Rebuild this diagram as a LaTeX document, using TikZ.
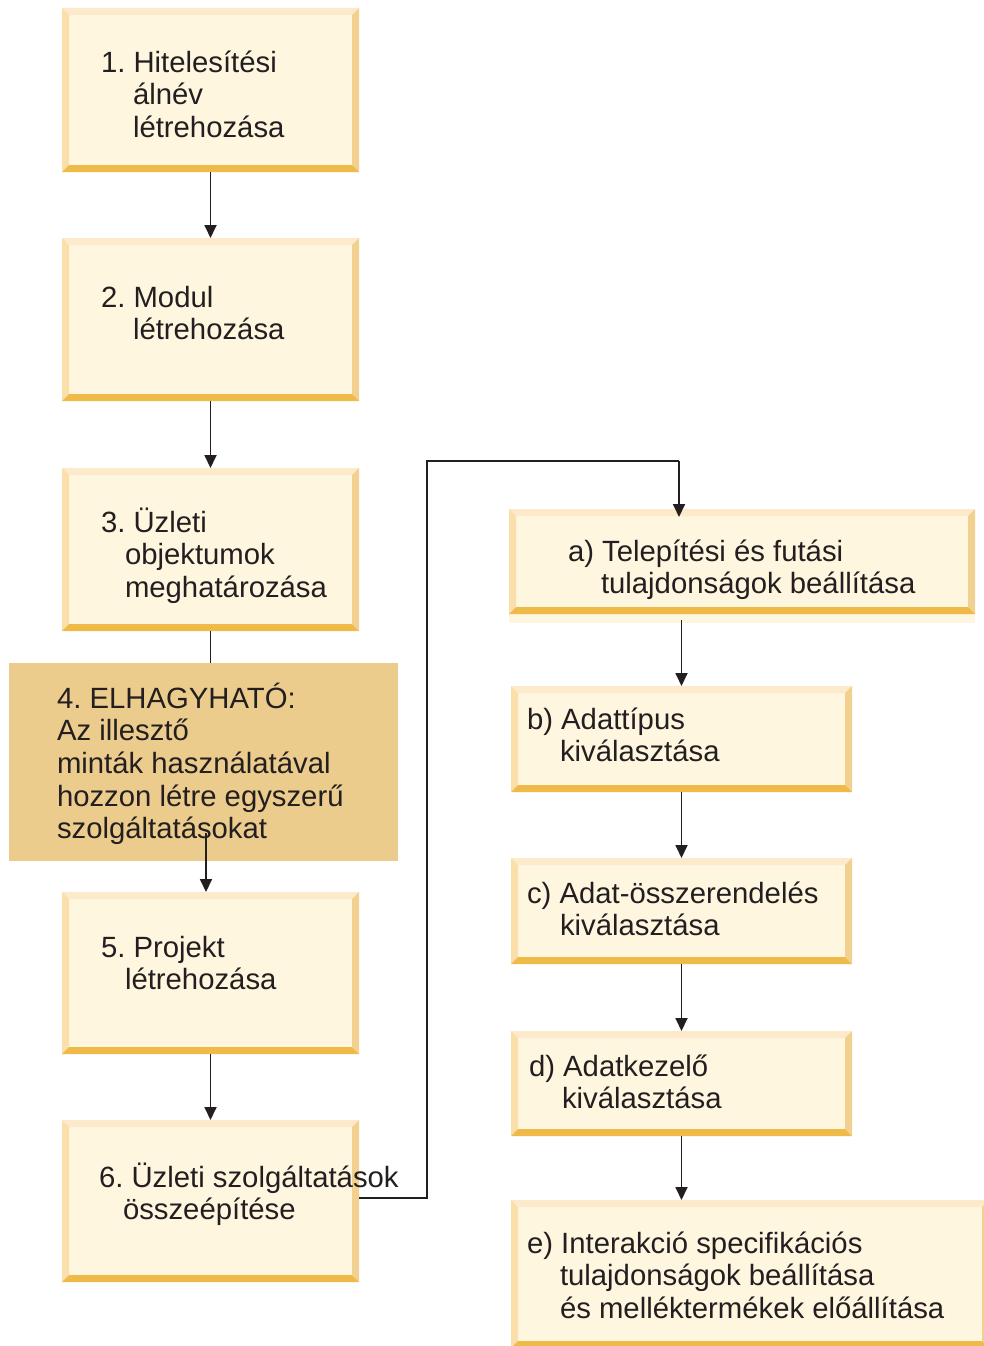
\documentclass[tikz,border=0pt]{standalone}
\usepackage{fontspec}
\setmainfont{Liberation Sans}
\usetikzlibrary{arrows.meta}
\definecolor{boxin}{HTML}{FFF6E0}
\definecolor{bvtop}{HTML}{FDEACA}
\definecolor{bvleft}{HTML}{FADFAA}
\definecolor{bvright}{HTML}{F2D090}
\definecolor{bvbot}{HTML}{F0BA48}
\definecolor{optfill}{HTML}{EBCC8C}
\definecolor{ink}{HTML}{231F20}
\frenchspacing
\begin{document}
\begin{tikzpicture}[x=1pt,y=-1pt,
  bevelbox/.style={inner sep=0pt, outer sep=0pt, anchor=north west, fill=boxin,
    path picture={
      \fill[bvtop] (path picture bounding box.north west) -- (path picture bounding box.north east)
        -- ([shift={(-7pt,-7pt)}]path picture bounding box.north east)
        -- ([shift={(7pt,-7pt)}]path picture bounding box.north west) -- cycle;
      \fill[bvleft] (path picture bounding box.north west)
        -- ([shift={(7pt,-7pt)}]path picture bounding box.north west)
        -- ([shift={(7pt,7pt)}]path picture bounding box.south west)
        -- (path picture bounding box.south west) -- cycle;
      \fill[bvright] (path picture bounding box.north east)
        -- (path picture bounding box.south east)
        -- ([shift={(-7pt,7pt)}]path picture bounding box.south east)
        -- ([shift={(-7pt,-7pt)}]path picture bounding box.north east) -- cycle;
      \fill[bvbot] (path picture bounding box.south west) -- (path picture bounding box.south east)
        -- ([shift={(-7pt,7pt)}]path picture bounding box.south east)
        -- ([shift={(7pt,7pt)}]path picture bounding box.south west) -- cycle;
    }},
  flatbox/.style={inner sep=0pt, outer sep=0pt, anchor=north west, fill=optfill},
  txt/.style={anchor=base west, inner sep=0pt, outer sep=0pt, text=ink,
    font=\fontsize{29.3pt}{32.7pt}\selectfont\frenchspacing},
  con/.style={draw=ink, line width=1.8pt},
  arr/.style={con, -{Triangle[length=13pt,width=12pt]}}
]
\useasboundingbox (0,0) rectangle (984,1346);

% left column boxes
\node[bevelbox, minimum width=297pt, minimum height=164pt] (b1) at (62,8) {};
\node[bevelbox, minimum width=297pt, minimum height=163pt] (b2) at (62,238) {};
\node[bevelbox, minimum width=297pt, minimum height=163pt] (b3) at (62,468) {};
\node[flatbox, minimum width=389pt, minimum height=198pt] (b4) at (9,663) {};
\node[bevelbox, minimum width=297pt, minimum height=162pt] (b5) at (62,892) {};
\node[bevelbox, minimum width=297pt, minimum height=162pt] (b6) at (62,1120) {};

% right column boxes
\fill[boxin] (509,614) rectangle (975,623);
\node[bevelbox, minimum width=466pt, minimum height=105pt] (ba) at (509,509) {};
\node[bevelbox, minimum width=341pt, minimum height=106pt] (bb) at (511,686) {};
\node[bevelbox, minimum width=341pt, minimum height=106pt] (bc) at (511,858) {};
\node[bevelbox, minimum width=341pt, minimum height=105pt] (bd) at (511,1031) {};
\node[bevelbox, minimum width=478pt, minimum height=148pt] (be) at (511,1200) {};

% texts
\node[txt] (t1) at (101,72) {\parbox[t]{500pt}{1. Hitelesítési\\\hspace*{32pt}álnév\\\hspace*{32pt}létrehozása}};
\node[txt] (t2) at (101,307) {\parbox[t]{500pt}{2. Modul\\\hspace*{32pt}létrehozása}};
\node[txt] (t3) at (101,532) {\parbox[t]{500pt}{3. Üzleti\\\hspace*{24pt}objektumok\\\hspace*{24pt}meghatározása}};
\node[txt] (t4) at (57,708) {\parbox[t]{500pt}{4. ELHAGYHATÓ:\\Az illesztő\\minták használatával\\hozzon létre egyszerű\\szolgáltatásokat}};
\node[txt] (t5) at (101,957) {\parbox[t]{500pt}{5. Projekt\\\hspace*{24pt}létrehozása}};
\node[txt] (t6) at (99,1187) {\parbox[t]{500pt}{6. Üzleti szolgáltatások\\\hspace*{24pt}összeépítése}};
\node[txt] (ta) at (568,561) {\parbox[t]{500pt}{a) Telepítési és futási\\\hspace*{33pt}tulajdonságok beállítása}};
\node[txt] (tb) at (527,729) {\parbox[t]{500pt}{b) Adattípus\\\hspace*{33pt}kiválasztása}};
\node[txt] (tc) at (527,903) {\parbox[t]{500pt}{c) Adat-összerendelés\\\hspace*{33pt}kiválasztása}};
\node[txt] (td) at (529,1076) {\parbox[t]{500pt}{d) Adatkezelő\\\hspace*{33pt}kiválasztása}};
\node[txt] (te) at (527,1253) {\parbox[t]{500pt}{e) Interakció specifikációs\\\hspace*{33pt}tulajdonságok beállítása\\\hspace*{33pt}és melléktermékek előállítása}};

% connectors
\coordinate (c45) at (206,833);
\coordinate (k1) at (427,461);
\coordinate (k2) at (679,461);
\draw[arr] (b1.south) -- (b2.north);
\draw[arr] (b2.south) -- (b3.north);
\draw[con] (b3.south) -- (b3.south |- b4.north);
\draw[arr] (c45) -- (c45 |- b5.north);
\draw[arr] (b5.south) -- (b6.north);
\draw[con] ([yshift=3pt]b6.east) -| (k1) -- (k2);
\draw[arr] (k2) -- ([yshift=-8pt]k2 |- ba.north);
\draw[arr] ([yshift=-6pt]bb.north |- ba.south) -- (bb.north);
\draw[arr] (bb.south) -- (bc.north);
\draw[arr] (bc.south) -- (bd.north);
\draw[arr] (bd.south) -- (bd.south |- be.north);
\end{tikzpicture}
\end{document}
